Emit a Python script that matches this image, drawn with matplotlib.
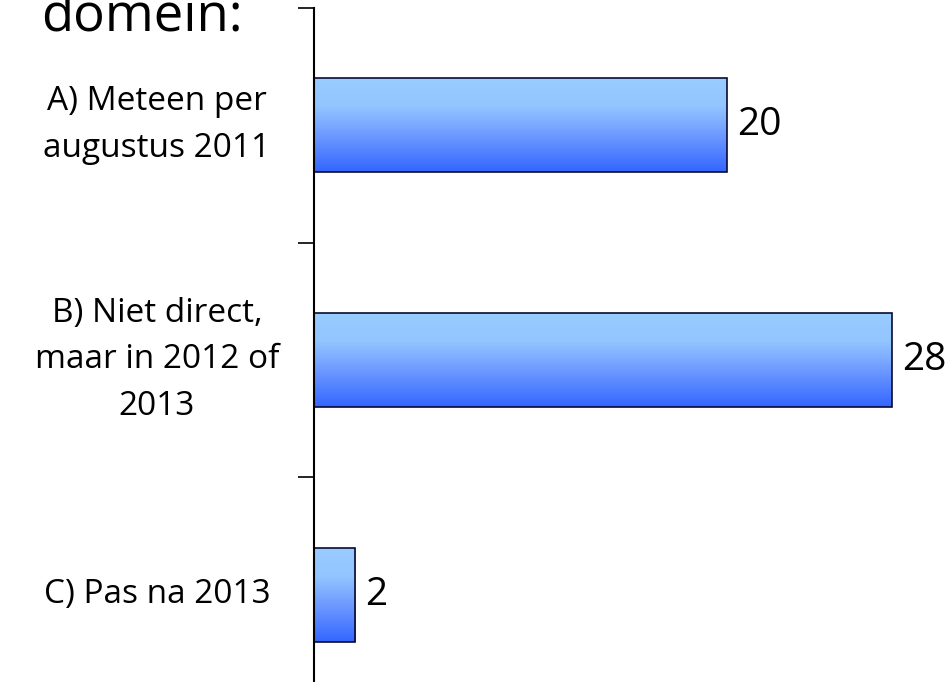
import numpy as np
import matplotlib
matplotlib.use("Agg")
import matplotlib.pyplot as plt
from matplotlib.colors import LinearSegmentedColormap
from matplotlib.transforms import blended_transform_factory

categories = ["A) Meteen per\naugustus 2011",
              "B) Niet direct,\nmaar in 2012 of\n2013",
              "C) Pas na 2013"]
values = [20, 28, 2]
title_text = "domein:"

plt.rcParams['font.family'] = ['Open Sans', 'DejaVu Sans']

W, H = 951, 682
fig = plt.figure(figsize=(W / 100, H / 100), dpi=100)
ax = fig.add_axes([314 / W, -30 / H, (W - 314) / W, 704 / H])

ypos = np.arange(len(values))
bars = ax.barh(ypos, values, height=0.4, color='none', edgecolor='#0a0a30',
               linewidth=1.2, zorder=3)

cmap = LinearSegmentedColormap.from_list(
    'grad', [(0.0, '#99CCFF'), (0.3, '#93C5FF'), (0.6, '#6F9BFF'), (1.0, '#3366FF')])
grad = np.linspace(0, 1, 256).reshape(-1, 1)
for b in bars:
    x0, y0 = b.get_x(), b.get_y()
    w, h = b.get_width(), b.get_height()
    im = ax.imshow(grad, cmap=cmap, aspect='auto',
                   extent=(x0, x0 + w, y0 + h, y0), zorder=2, interpolation='bilinear')
    im.set_clip_path(b)

ax.set_xlim(0, 637 / 20.64)
ax.set_ylim(len(values) - 0.5, -0.5)

for s in ['top', 'right', 'bottom']:
    ax.spines[s].set_visible(False)
ax.spines['left'].set_linewidth(1.5)
ax.spines['left'].set_zorder(4)
ax.set_xticks([])
ax.set_yticks(ypos)
ax.set_yticklabels([])
ax.tick_params(axis='y', which='major', length=0)
ax.set_yticks(np.arange(len(values) + 1) - 0.5, minor=True)
ax.tick_params(axis='y', which='minor', length=11.5, width=1.2, direction='out')

tr = blended_transform_factory(fig.transFigure, ax.transData)
for yp, lab in zip(ypos, categories):
    fig.text(157 / W, yp, lab, transform=tr, ha='center', va='center',
             fontsize=24, multialignment='center', linespacing=1.55)

for yp, v in zip(ypos, values):
    ax.annotate(str(v), xy=(v, yp), xytext=(10, 0), textcoords='offset pixels',
                ha='left', va='center', fontsize=28)

fig.text(243 / W, 1 - 32 / H, title_text, ha='right', va='baseline', fontsize=38)

fig.savefig('out.png', dpi=100)
